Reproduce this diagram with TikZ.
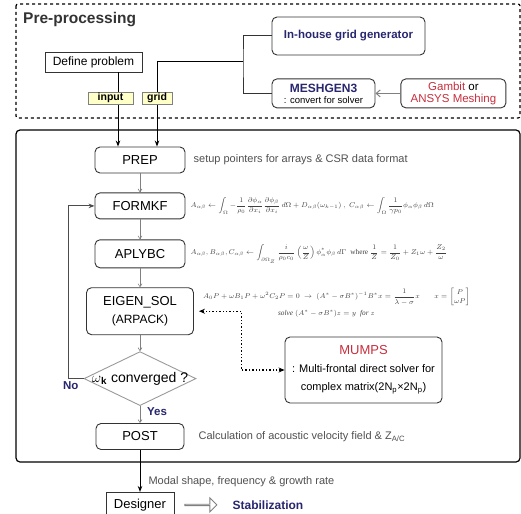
\documentclass[tikz,border=0pt]{standalone}
\usepackage{amsmath}
\usepackage{fontspec}
\setmainfont{Liberation Sans}
\newfontfamily\eqfont{Liberation Serif}
\usetikzlibrary{shapes.geometric, shapes.arrows, arrows.meta, positioning}

\definecolor{navy}{RGB}{40,38,110}
\definecolor{mred}{RGB}{200,45,60}
\definecolor{notegray}{RGB}{80,80,80}
\definecolor{tagfill}{RGB}{255,255,200}

\begin{document}
\begin{tikzpicture}[
    x=1pt, y=-1pt,
    node distance=18pt,
    proc/.style={rectangle, draw=black!80, line width=0.9pt, rounded corners=5pt, minimum width=90pt, minimum height=26pt, inner sep=2pt, align=center, font=\fontsize{13}{15}\selectfont},
    plain/.style={rectangle, draw=black!80, line width=0.9pt, minimum height=20pt, inner sep=2pt, font=\fontsize{12}{14}\selectfont},
    decision/.style={diamond, draw=gray!80, line width=0.9pt, aspect=2, minimum width=112pt, minimum height=54pt, inner sep=0pt, font=\fontsize{14}{16}\selectfont},
    tag/.style={rectangle, draw=gray, fill=tagfill, minimum height=12pt, inner xsep=5pt, inner ysep=1pt, font=\bfseries\fontsize{10.5}{12}\selectfont},
    note/.style={anchor=west, inner sep=1pt, text=notegray, font=\fontsize{11}{13}\selectfont},
    eq/.style={anchor=west, inner sep=1pt, text=black!75, font=\fontsize{7.3}{8.5}\selectfont},
    lbl/.style={inner sep=1pt, text=navy, font=\bfseries\fontsize{11.5}{13}\selectfont},
    hollow/.style={single arrow, draw=gray, line width=0.8pt, minimum height=32pt, minimum width=14pt, single arrow head extend=3.5pt, inner sep=0pt},
    flow/.style={-{Straight Barb[length=3pt, width=4pt]}, draw=gray, line width=0.6pt},
    feed/.style={-{Stealth[length=6pt, width=4.5pt]}, line width=1pt},
    link/.style={draw=black!80, line width=1pt},
    back/.style={-{Stealth[length=6pt, width=4.5pt]}, draw=black!70, line width=0.9pt},
    dotarrow/.style={{Stealth[length=6pt, width=5pt]}-{Stealth[length=6pt, width=5pt]}, dotted, line width=1.4pt},
    frame/.style={line width=1.2pt, rounded corners=4pt},
]
\useasboundingbox (0,0) rectangle (521,513);

% Pre-processing
\draw[frame, dashed, rounded corners=2pt] (16,4) rectangle (520,118);
\node[anchor=west, inner sep=1pt, font=\bfseries\fontsize{15.5}{17}\selectfont, text=black!80] (pre) at (22,20) {Pre-processing};
\node[plain, minimum width=97pt] (define) at (93.5,62) {Define problem};
\node[proc, minimum width=153pt, minimum height=38pt, text=navy, font=\bfseries\fontsize{11.5}{13}\selectfont] (inhouse) at (348.5,36) {In-house grid generator};
\node[proc, minimum width=103pt, minimum height=29pt, below=23pt of inhouse.south west, anchor=north west, font=\fontsize{9.5}{11}\selectfont] (meshgen) {{\bfseries\fontsize{12}{13}\selectfont\textcolor{navy}{MESHGEN3}}\\: convert for solver};
\node[proc, minimum width=105pt, minimum height=29pt, right=25pt of meshgen, font=\fontsize{11.5}{12.5}\selectfont] (gambit) {\textcolor{mred}{Gambit} or\\\textcolor{mred}{ANSYS Meshing}};

% Main solver
\draw[frame] (16,130) rectangle (520,462);
\node[proc] (prep) at (140,160) {PREP};
\node[proc, below=19pt of prep] (formkf) {FORMKF};
\node[proc, minimum height=28pt, below=20pt of formkf] (aplybc) {APLYBC};
\node[proc, minimum width=107pt, minimum height=47pt, below=19pt of aplybc, font=\fontsize{13}{18}\selectfont] (eigen) {EIGEN\_SOL\\{\fontsize{12}{18}\selectfont(ARPACK)}};
\node[decision, below=16pt of eigen] (conv) {\makebox[0pt]{$\omega$\textsubscript{\textbf{k}} converged ?}};
\node[proc, minimum width=88pt, below=17pt of conv] (post) {POST};
\node[proc, minimum width=157pt, minimum height=66pt, font=\fontsize{11}{18}\selectfont] (mumps) at (363.5,370) {{\fontsize{13}{15}\selectfont\textcolor{mred}{MUMPS}}\\: Multi-frontal direct solver for\\complex matrix(2N\textsubscript{p}×2N\textsubscript{p})};

% Notes and equations
\node[note, right=7pt of prep] {setup pointers for arrays \& CSR data format};
\node[eq, right=4pt of formkf] (formeq) {$\displaystyle A_{\alpha\beta} \leftarrow \int_\Omega -\frac{1}{\rho_0}\frac{\partial\phi_\alpha}{\partial x_i}\frac{\partial\phi_\beta}{\partial x_i}\,d\Omega + D_{\alpha\beta}(\omega_{k-1})\ ,\ C_{\alpha\beta} \leftarrow \int_\Omega \frac{1}{\gamma p_0}\phi_\alpha\phi_\beta\,d\Omega$};
\node[eq, right=4pt of aplybc] (aplyeq) {$\displaystyle A_{\alpha\beta}, B_{\alpha\beta}, C_{\alpha\beta} \leftarrow \int_{\partial\Omega_Z} \frac{i}{\rho_0 c_0}\left(\frac{\omega}{Z}\right)\phi^*_\alpha\phi_\beta\,d\Gamma$ \ {\eqfont where} $\displaystyle\frac{1}{Z} = \frac{1}{Z_0} + Z_1\omega + \frac{Z_2}{\omega}$};
\node[eq, above right=4pt and 8pt of eigen.east] (eigeq) {$\displaystyle A_0P + \omega B_1P + \omega^2C_2P = 0 \ \rightarrow\ (A^* - \sigma B^*)^{-1}B^*x = \frac{1}{\lambda-\sigma}x \qquad x = \begin{bmatrix} P\\ \omega P\end{bmatrix}$};
\node[eq, below right=2pt and 75pt of eigeq.south west] (solveeq) {{\eqfont\itshape solve} $(A^* - \sigma B^*)z = y$ \ {\eqfont\itshape for} $z$};
\node[note, right=13pt of post] {Calculation of acoustic velocity field \& Z\textsubscript{A/C}};

% Output
\node[plain, minimum width=68pt, minimum height=25pt, below=42pt of post, font=\fontsize{13}{15}\selectfont] (designer) {Designer};
\node[hollow, right=10pt of designer] (hollow) {};
\node[lbl, anchor=west, right=14pt of hollow, font=\bfseries\fontsize{12}{14}\selectfont] (stab) {Stabilization};

% Connectors
\coordinate (split) at (243,62);
\coordinate (inx) at (118,72);
\coordinate (gridx) at (157,62);
\coordinate (nox) at (68,0);
\draw[link] (inhouse.west) -| (split) |- (meshgen.west);
\draw[link, draw=gray, -{Straight Barb[length=4pt, width=7pt]}] (gambit) -- (meshgen);
\draw[feed] (define.south -| inx) -- (prep.north -| inx);
\draw[feed] (split) -- (gridx) -- (prep.north -| gridx);
\node[tag, minimum width=45pt] (inlbl) at (110.5,98) {input};
\node[tag] (gridlbl) at (157,98) {grid};

\draw[flow] (prep) -- (formkf);
\draw[flow] (formkf) -- (aplybc);
\draw[flow] (aplybc) -- (eigen);
\draw[flow] (eigen) -- (conv);
\draw[flow] (conv) -- (post);
\node[lbl, below right=0pt and 6pt of conv.south] {Yes};
\draw[back] (conv.west) -- (conv.west -| nox) |- (formkf.west);
\node[lbl, below left=2pt and 4pt of conv.west] {No};
\draw[dotarrow, shorten >=5pt] (mumps.west) -- ++(-43,0) |- (eigen.east);
\draw[feed] (post) -- node[note, pos=0.75, right=7pt] {Modal shape, frequency \& growth rate} (designer);

\end{tikzpicture}
\end{document}
